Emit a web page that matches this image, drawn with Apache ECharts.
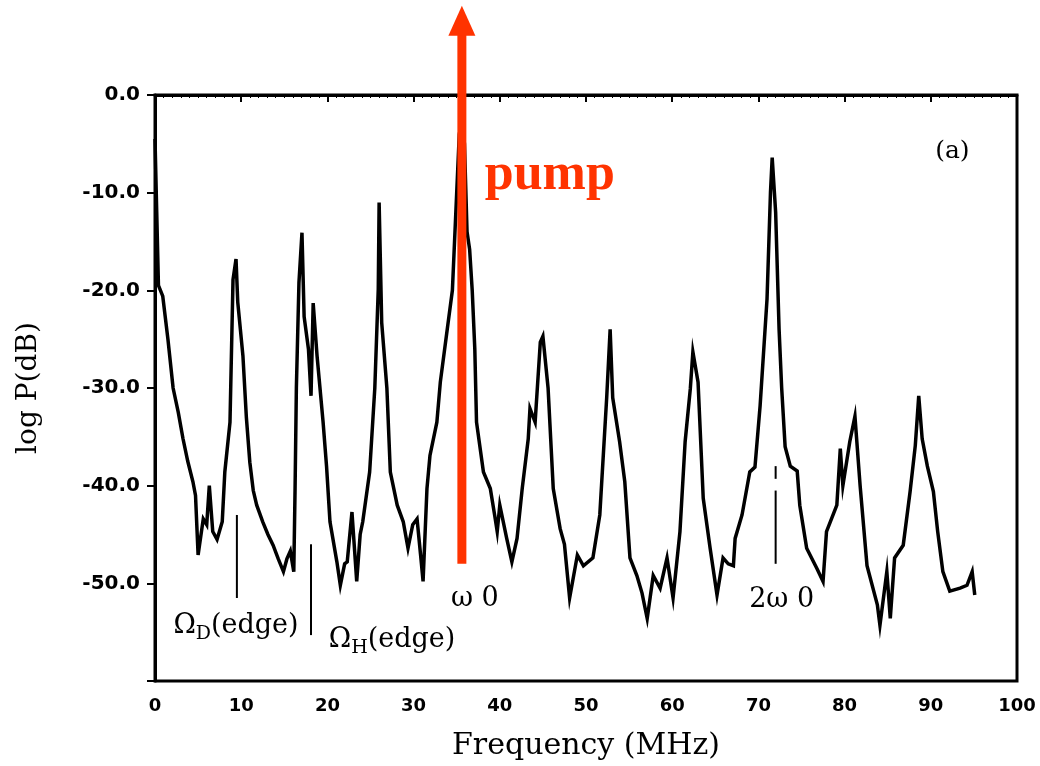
<!DOCTYPE html>
<html>
<head>
<meta charset="utf-8">
<script src="https://cdn.jsdelivr.net/npm/echarts@6/dist/echarts.min.js"></script>
<style>
html,body{margin:0;padding:0;background:#fff;}
#chart{width:1040px;height:766px;}
</style>
</head>
<body>
<div id="chart"></div>
<script>
// Spectrum trace (MHz, dB)
const freq = [
  0, 0.2, 0.4, 0.9, 1.5, 2.1, 2.7, 3.25, 3.8, 4.4,
  4.7, 5.0, 5.6, 6.0, 6.3, 6.7, 7.2, 7.8, 8.1, 8.7,
  9.05, 9.4, 9.6, 10.2, 10.6, 11.0, 11.4, 11.8, 12.5, 13.1,
  13.7, 14.3, 14.9, 15.3, 15.7, 16.1, 16.25, 16.4, 16.7, 17.05,
  17.3, 17.8, 18.1, 18.35, 18.8, 19.5, 19.9, 20.3, 21.1, 21.5,
  22.0, 22.3, 22.85, 23.4, 23.8, 24.1, 24.9, 25.5, 25.9, 26.0,
  26.3, 26.9, 27.3, 28.1, 28.8, 29.35, 29.9, 30.4, 30.8, 31.1,
  31.55, 31.9, 32.7, 33.1, 33.9, 34.5, 35.0, 35.3, 35.6, 35.9,
  36.2, 36.5, 36.8, 37.1, 37.3, 38.1, 38.9, 39.4, 39.7, 40.0,
  40.8, 41.4, 42.0, 42.6, 43.3, 43.5, 44.1, 44.7, 45.0, 45.6,
  46.2, 47.0, 47.5, 48.1, 49.0, 49.7, 50.8, 51.6, 52.4, 52.8,
  53.1, 53.9, 54.5, 55.1, 55.9, 56.5, 57.1, 57.8, 58.6, 59.4,
  60.1, 60.9, 61.5, 62.1, 62.4, 63.0, 63.6, 64.4, 65.2, 65.9,
  66.5, 67.1, 67.3, 68.1, 69.0, 69.6, 70.2, 71.0, 71.4, 71.6,
  72.0, 72.4, 72.7, 73.1, 73.7, 74.5, 74.8, 75.6, 76.8, 77.5,
  77.9, 79.1, 79.5, 79.8, 80.6, 81.2, 81.8, 82.6, 83.8, 84.1,
  84.9, 85.3, 85.8, 86.8, 87.6, 88.2, 88.6, 89.0, 89.6, 90.3,
  90.8, 91.4, 92.2, 93.4, 94.2, 94.8, 95.1
];
const power = [
  -4.5, -12, -19.5, -20.6, -25, -30, -32.5, -35.2, -37.5, -39.6,
  -41, -47.1, -43.4, -44, -40, -44.7, -45.5, -43.7, -38.6, -33.5,
  -18.9, -16.8, -21.2, -26.7, -33, -37.6, -40.5, -42, -43.7, -45,
  -46.1, -47.5, -48.8, -47.5, -46.7, -48.8, -40.3, -30, -19.2, -14.1,
  -22.7, -26, -30.8, -21.3, -26.7, -33.5, -38, -43.7, -47.8, -50.2,
  -48, -47.8, -42.7, -49.8, -45, -43.7, -38.6, -30, -19.9, -11.0,
  -23.3, -30, -38.6, -42, -43.7, -46.4, -44, -43.4, -47, -49.8,
  -40.3, -36.9, -33.5, -29.4, -24, -20, -10, -4, -2.5, -5,
  -14, -15.8, -20, -26, -33.5, -38.6, -40.3, -43, -44.7, -42,
  -45.4, -47.8, -45.4, -40.3, -35.2, -32.1, -33.5, -25.3, -24.7, -30,
  -40.3, -44.4, -46, -51.5, -47.1, -48.2, -47.4, -43, -31, -24,
  -31, -35.5, -39.6, -47.4, -49.2, -51, -53.6, -49.2, -50.5, -47.4,
  -51.5, -44.7, -35.5, -30.1, -26.3, -29.4, -41.3, -46.4, -51.2, -47.4,
  -48, -48.2, -45.4, -43, -38.6, -38.1, -31.8, -20.9, -10, -6.4,
  -12, -24, -30, -36, -38, -38.5, -42, -46.4, -48.5, -49.8,
  -44.7, -42, -36.2, -40, -35.5, -32.9, -40, -48.2, -52.2, -54.3,
  -48.8, -53.6, -47.4, -46.1, -40.6, -35.9, -30.8, -35.2, -38, -40.6,
  -44.7, -48.8, -50.8, -50.5, -50.2, -48.8, -51.2
];

// Edge / harmonic marker ticks
const markerFreqs   = [9.5, 18.1, 72.0, 72.0];
const markerTops    = [-43, -46, -38, -40.5];
const markerBottoms = [-51.5, -55.3, -39.3, -48];

// Pump arrow
const pumpFreq = 35.6;
const pumpShaft = [-48, 6.3];
const pumpHead = 7.6;

// Axis ticks
const xTicks = [0, 10, 20, 30, 40, 50, 60, 70, 80, 90, 100];
const yTicks = [0, -10, -20, -30, -40, -50];

// Text annotations (text, anchor frequency, anchor dB)
const annoTexts = ['{o|ω 0}', '{o|2ω 0}', '{o|Ω}{s|D}{o|(edge)}', '{o|Ω}{s|H}{o|(edge)}', '{a|(a)}', '{p|pump}'];
const annoFreqs = [37.1, 72.7, 9.4, 27.5, 92.5, 45.8];
const annoDb    = [-51.6, -51.7, -54.4, -55.8, -5.8, -8.2];

const spectrum = freq.map((f, i) => [f, power[i]]);

const chart = echarts.init(document.getElementById('chart'), null, {renderer: 'canvas'});

const series = [{
  type: 'line',
  data: spectrum,
  symbol: 'none',
  lineStyle: {color: '#000', width: 3.5, join: 'miter'},
  z: 2,
  animation: false
}];

markerFreqs.forEach((f, i) => {
  series.push({
    type: 'line',
    data: [[f, markerTops[i]], [f, markerBottoms[i]]],
    symbol: 'none',
    clip: false,
    lineStyle: {color: '#000', width: 2},
    z: 2,
    animation: false
  });
});

series.push({
  type: 'line',
  data: [[pumpFreq, pumpShaft[0]], [pumpFreq, pumpShaft[1]]],
  symbol: 'none',
  clip: false,
  lineStyle: {color: '#ff3300', width: 9, cap: 'butt', opacity: 1},
  z: 5,
  animation: false
});
series.push({
  type: 'scatter',
  data: [[pumpFreq, pumpHead]],
  symbol: 'triangle',
  symbolSize: [27, 30],
  clip: false,
  itemStyle: {color: '#ff3300', opacity: 1},
  z: 5,
  animation: false
});

const rich = {
  o: {fontFamily: 'DejaVu Serif', fontSize: 27, color: '#000'},
  s: {fontFamily: 'DejaVu Serif', fontSize: 19, color: '#000', padding: [16, 0, 0, 0]},
  a: {fontFamily: 'DejaVu Serif', fontSize: 25, color: '#000'},
  p: {fontFamily: 'Liberation Serif', fontSize: 52, fontWeight: 'bold', color: '#ff3300'}
};

series.push({
  type: 'scatter',
  data: annoTexts.map((t, i) => ({value: [annoFreqs[i], annoDb[i]], label: {formatter: t}})),
  symbolSize: 1,
  itemStyle: {color: 'rgba(255,255,255,0)', opacity: 1},
  clip: false,
  label: {show: true, position: 'inside', rich: rich, textBorderWidth: 0, opacity: 1},
  z: 6,
  animation: false
});

chart.setOption({
  backgroundColor: '#ffffff',
  animation: false,
  grid: {left: 155, right: 23, top: 95, bottom: 83, show: true, borderColor: '#000', borderWidth: 3, backgroundColor: 'transparent'},
  xAxis: {
    type: 'value', min: xTicks[0], max: xTicks[xTicks.length - 1], interval: 10,
    name: 'Frequency (MHz)', nameLocation: 'middle', nameGap: 50,
    nameTextStyle: {fontFamily: 'DejaVu Serif', fontSize: 30, color: '#000'},
    axisLine: {show: true, lineStyle: {color: '#000', width: 3}},
    axisTick: {show: true, length: 7, lineStyle: {color: '#000', width: 2}},
    minorTick: {show: true, splitNumber: 10, length: 3, lineStyle: {color: '#000', width: 1}},
    splitLine: {show: false},
    axisLabel: {margin: 16, fontFamily: 'DejaVu Sans', fontWeight: 'bold', fontSize: 18, color: '#000',
      formatter: v => xTicks.indexOf(v) >= 0 ? String(v) : ''}
  },
  yAxis: {
    type: 'value', min: -60, max: 0, interval: 10,
    name: 'log P(dB)', nameLocation: 'middle', nameGap: 112, nameRotate: 90,
    nameTextStyle: {fontFamily: 'DejaVu Serif', fontSize: 28, color: '#000'},
    axisLine: {show: true, lineStyle: {color: '#000', width: 3}},
    axisTick: {show: true, length: 8, lineStyle: {color: '#000', width: 2}},
    splitLine: {show: false},
    axisLabel: {margin: 15, fontFamily: 'DejaVu Sans', fontWeight: 'bold', fontSize: 20, color: '#000',
      formatter: v => yTicks.indexOf(v) >= 0 ? v.toFixed(1) : ''}
  },
  series: series
});
</script>
</body>
</html>
